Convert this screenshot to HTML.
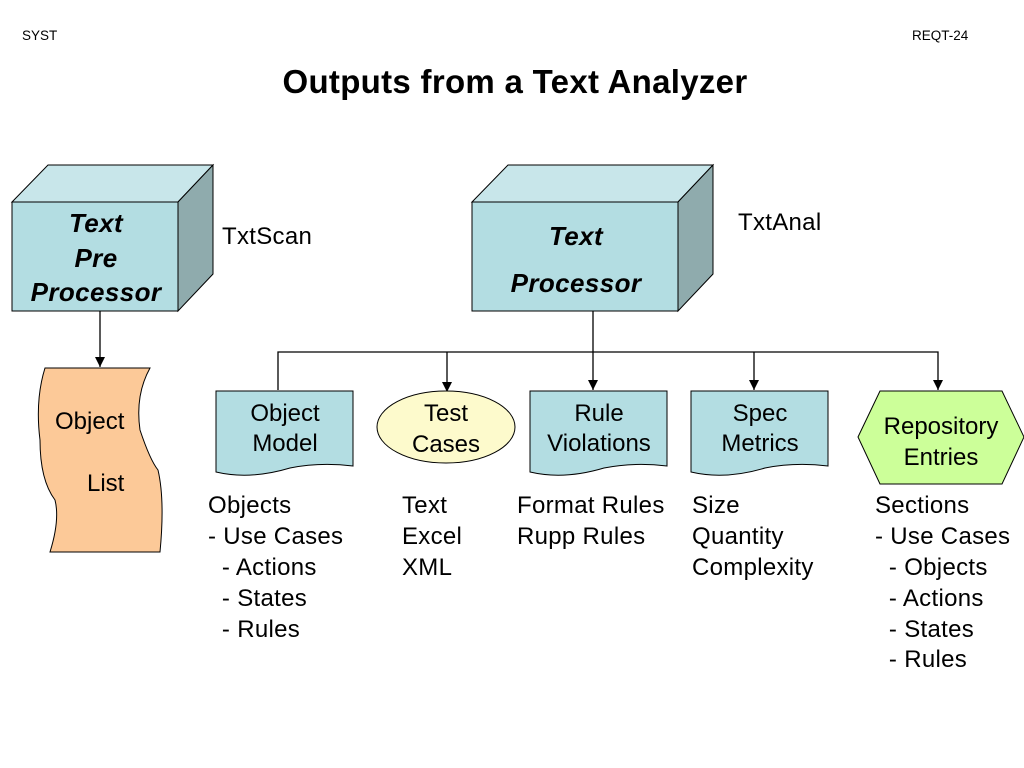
<!DOCTYPE html>
<html><head><style>body{margin:0;background:#fff}svg{display:block}text{font-family:"Liberation Sans",Arial,sans-serif}</style></head><body>
<svg width="1024" height="768" viewBox="0 0 1024 768">
<defs><marker id="a" markerWidth="10" markerHeight="10" refX="10" refY="5" orient="auto" markerUnits="userSpaceOnUse"><path d="M0,0 L10,5 L0,10 z" fill="#000"/></marker></defs>
<text x="22" y="40" font-size="13.5">SYST</text>
<text x="912" y="40" font-size="13.5">REQT-24</text>
<text x="515" y="93" font-size="33" font-weight="bold" text-anchor="middle" letter-spacing="0.3">Outputs from a Text Analyzer</text>
<g stroke="#000" stroke-width="1">
<polygon points="12,202 48,165 213,165 178,202" fill="#c8e6ea"/>
<polygon points="178,202 213,165 213,274 178,311" fill="#8fabad"/>
<rect x="12" y="202" width="166" height="109" fill="#b3dde2"/>
<polygon points="472,202 508,165 713,165 678,202" fill="#c8e6ea"/>
<polygon points="678,202 713,165 713,274 678,311" fill="#8fabad"/>
<rect x="472" y="202" width="206" height="109" fill="#b3dde2"/>
</g>
<g font-size="26" font-weight="bold" font-style="italic" text-anchor="middle" letter-spacing="0.4">
<text x="96" y="232">Text</text><text x="96" y="267">Pre</text><text x="96" y="301">Processor</text>
<text x="576" y="245">Text</text><text x="576" y="292">Processor</text>
</g>
<text x="222" y="244" font-size="24" letter-spacing="0.3">TxtScan</text>
<text x="738" y="230" font-size="24" letter-spacing="0.3">TxtAnal</text>
<g stroke="#000" stroke-width="1.3" fill="none">
<line x1="100" y1="311" x2="100" y2="367" marker-end="url(#a)"/>
<line x1="593" y1="311" x2="593" y2="390" marker-end="url(#a)"/>
<polyline points="278,390 278,352 938,352 938,390" marker-end="url(#a)"/>
<line x1="447" y1="352" x2="447" y2="392" marker-end="url(#a)"/>
<line x1="754" y1="352" x2="754" y2="390" marker-end="url(#a)"/>
</g>
<path d="M45,368 L150,368 Q135,395 140,430 Q150,460 158,470 Q165,500 160,552 L50,552 Q60,520 55,500 Q40,480 40,440 Q35,400 45,368 Z" fill="#fcc998" stroke="#000"/>
<text x="55" y="429" font-size="24">Object</text>
<text x="87" y="491" font-size="24">List</text>
<g stroke="#000" fill="#b3dde2">
<path d="M216,391 H353 V466 Q320,462 290,468 Q250,480 216,472 Z"/>
<path d="M530,391 H667 V466 Q634,462 604,468 Q564,480 530,472 Z"/>
<path d="M691,391 H828 V466 Q795,462 765,468 Q725,480 691,472 Z"/>
</g>
<ellipse cx="446" cy="427" rx="69" ry="36" fill="#fdfacc" stroke="#000"/>
<polygon points="858,437 880,391 1002,391 1024,437 1002,484 880,484" fill="#ccff99" stroke="#000"/>
<g font-size="24" text-anchor="middle">
<text x="285" y="421">Object</text><text x="285" y="451">Model</text>
<text x="446" y="421">Test</text><text x="446" y="452">Cases</text>
<text x="599" y="421">Rule</text><text x="599" y="451">Violations</text>
<text x="760" y="421">Spec</text><text x="760" y="451">Metrics</text>
<text x="941" y="434">Repository</text><text x="941" y="465">Entries</text>
</g>
<g font-size="24" letter-spacing="0.3">
<text x="208" y="513">Objects</text><text x="208" y="544">- Use Cases</text><text x="208" y="575" xml:space="preserve">  - Actions</text><text x="208" y="606" xml:space="preserve">  - States</text><text x="208" y="637" xml:space="preserve">  - Rules</text>
<text x="402" y="513">Text</text><text x="402" y="544">Excel</text><text x="402" y="575">XML</text>
<text x="517" y="513">Format Rules</text><text x="517" y="544">Rupp Rules</text>
<text x="692" y="513">Size</text><text x="692" y="544">Quantity</text><text x="692" y="575">Complexity</text>
<text x="875" y="513">Sections</text><text x="875" y="544">- Use Cases</text><text x="875" y="575" xml:space="preserve">  - Objects</text><text x="875" y="606" xml:space="preserve">  - Actions</text><text x="875" y="637" xml:space="preserve">  - States</text><text x="875" y="667" xml:space="preserve">  - Rules</text>
</g>
</svg>
</body></html>
